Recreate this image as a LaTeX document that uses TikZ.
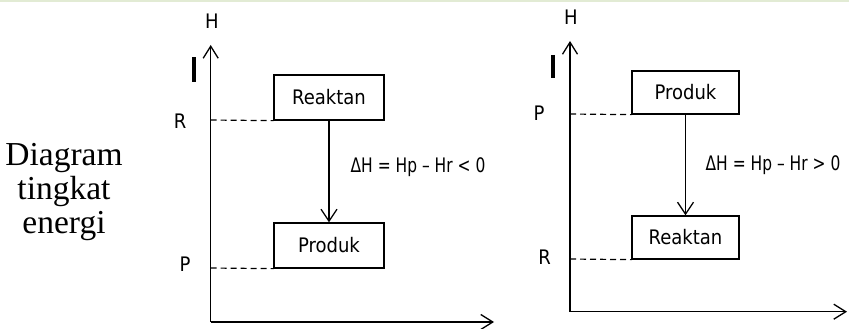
\documentclass[tikz,border=0pt]{standalone}
\usepackage{fontspec}
\setmainfont{Liberation Serif}
\newfontfamily\lblfont{DejaVu Sans Condensed}
\usetikzlibrary{arrows.meta}
\definecolor{topline}{RGB}{226,235,212}
\tikzset{
  axis/.style={line width=1.3pt, -{Straight Barb[length=12pt,width=15pt,line width=1.3pt]}},
  flow/.style={line width=1.3pt, -{Straight Barb[length=12pt,width=16pt,line width=1.3pt]}},
  levelbox/.style={draw, line width=1.3pt, inner sep=0pt, font=\lblfont\fontsize{20}{22}\selectfont},
  guide/.style={line width=1.2pt, dash pattern=on 6pt off 4pt},
  lbl/.style={inner sep=0pt, font=\lblfont\fontsize{20}{22}\selectfont},
  cursor/.style={line width=3.5pt},
  title/.style={inner sep=0pt, align=center, font=\fontsize{33.5}{34}\selectfont}
}
\begin{document}
\begin{tikzpicture}[x=1pt,y=-1pt]
\useasboundingbox (0,0) rectangle (849,329);
\fill[topline] (0,0) rectangle (849,2);

% title
\node[title, anchor=north] (title) at (64,143) {Diagram\\tingkat\\energi};

% ---------- left diagram (exothermic) ----------
\coordinate (o1) at (210.7,322);
\coordinate (y1) at (210.7,45);
\coordinate (x1) at (494,322);
\draw[axis] (o1) -- (y1);
\draw[axis] (o1) -- (x1);
\node[lbl] (h1) at (212,21) {H};
\draw[cursor] (194,57.5) -- (194,82.5);
\node[levelbox, minimum width=110pt, minimum height=45pt] (r1) at (329,97.5) {Reaktan};
\node[levelbox, minimum width=110pt, minimum height=45pt] (p1) at (329,245.5) {Produk};
\coordinate (ar1) at (210.7,120);
\coordinate (ap1) at (210.7,268);
\draw[guide] (ar1) -- (r1.south west);
\draw[guide] (ap1) -- (p1.south west);
\node[lbl] (rl1) at (180,121) {R};
\node[lbl] (pl1) at (185,264.5) {P};
\draw[flow] (r1.south) -- (p1.north);
\node[lbl, anchor=base] (dh1) at (418,172) {\scalebox{0.86}[1]{ΔH = Hp – Hr < 0}};

% ---------- right diagram (endothermic) ----------
\coordinate (o2) at (570,311.7);
\coordinate (y2) at (570,41);
\coordinate (x2) at (847,311.7);
\draw[axis] (o2) -- (y2);
\draw[axis] (o2) -- (x2);
\node[lbl] (h2) at (571,17.5) {H};
\draw[cursor] (553,55) -- (553,78);
\node[levelbox, minimum width=107pt, minimum height=43pt] (p2) at (685.5,92.5) {Produk};
\node[levelbox, minimum width=107pt, minimum height=43pt] (r2) at (685.5,237.5) {Reaktan};
\coordinate (ap2) at (570,114);
\coordinate (ar2) at (570,259);
\draw[guide] (ap2) -- (p2.south west);
\draw[guide] (ar2) -- (r2.south west);
\node[lbl] (pl2) at (539,113) {P};
\node[lbl] (rl2) at (544.5,257.5) {R};
\draw[flow] (p2.south) -- (r2.north);
\node[lbl, anchor=base] (dh2) at (773,170) {\scalebox{0.86}[1]{ΔH = Hp – Hr > 0}};
\end{tikzpicture}
\end{document}
